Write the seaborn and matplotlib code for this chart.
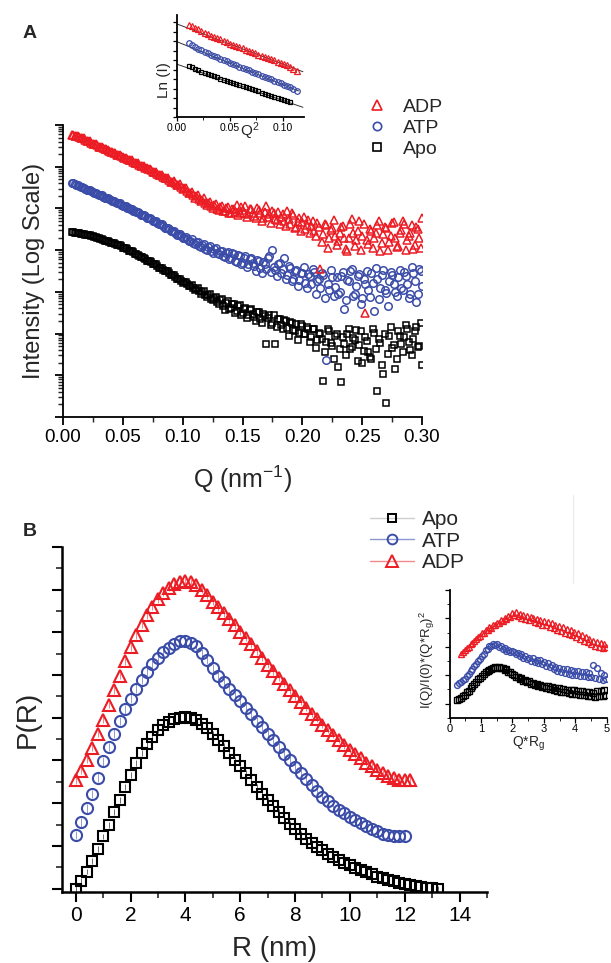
import numpy as np
import pandas as pd
import seaborn as sns
import matplotlib
matplotlib.use("Agg")
import matplotlib.pyplot as plt
from matplotlib.lines import Line2D
from matplotlib.ticker import (MultipleLocator, LogLocator, NullFormatter,
                               FormatStrFormatter)

# ---------------- Panel A: SAXS curves (log10 intensity) ----------------
# main q grid (0.0075 ... 0.300) and the in-between q grid (0.00875 ... 0.29875)
q_start, q_step, n_q = 0.0075, 0.0025, 118
qh_start, n_qh = 0.00875, 117
adp_logI = [6.76, 6.74, 6.74, 6.70, 6.68, 6.62, 6.61, 6.55, 6.54, 6.48,
            6.47, 6.42, 6.41, 6.36, 6.34, 6.29, 6.28, 6.23, 6.22, 6.16,
            6.15, 6.09, 6.09, 6.02, 6.01, 5.96, 5.94, 5.88, 5.87, 5.80,
            5.80, 5.72, 5.73, 5.64, 5.66, 5.55, 5.58, 5.47, 5.49, 5.36,
            5.40, 5.26, 5.33, 5.17, 5.24, 5.08, 5.15, 5.02, 5.10, 4.96,
            5.06, 4.93, 5.04, 4.90, 4.99, 5.08, 4.88, 4.97, 5.05, 4.86,
            4.98, 4.82, 5.02, 4.90, 4.78, 5.05, 4.86, 4.95, 4.74, 4.92,
            4.80, 4.70, 4.95, 4.62, 4.85, 4.55, 4.78, 4.68, 4.50, 4.72,
            4.58, 4.45, 4.66, 3.55, 4.38, 4.60, 4.28, 4.52, 4.35, 4.22,
            4.55, 4.30, 3.98, 4.62, 4.40, 4.25, 4.70, 4.35, 2.50, 4.15,
            4.45, 4.28, 4.60, 3.98, 4.38, 4.52, 4.20, 4.65, 4.30, 4.10,
            4.48, 4.62, 4.25, 4.40, 4.02, 4.55, 4.30, 4.78]
adp_logI_h = [6.75, 6.74, 6.72, 6.69, 6.65, 6.62, 6.58, 6.55, 6.51, 6.47,
              6.44, 6.42, 6.38, 6.35, 6.32, 6.28, 6.25, 6.22, 6.19, 6.15,
              6.12, 6.08, 6.05, 6.02, 5.98, 5.95, 5.91, 5.87, 5.83, 5.80,
              5.76, 5.72, 5.68, 5.64, 5.60, 5.56, 5.52, 5.48, 5.42, 5.38,
              5.32, 5.30, 5.22, 5.21, 5.12, 5.13, 5.06, 5.08, 4.98, 5.03,
              4.95, 5.02, 4.88, 4.98, 4.92, 4.85, 5.03, 4.90, 4.80, 4.99,
              4.88, 4.76, 4.96, 4.70, 4.92, 4.80, 4.66, 4.90, 4.72, 4.62,
              4.86, 4.58, 4.75, 4.88, 4.52, 4.68, 4.45, 4.80, 4.60, 4.40,
              4.70, 4.35, 4.55, 4.20, 4.62, 4.05, 4.48, 4.72, 4.12, 4.40,
              4.58, 4.02, 4.30, 4.75, 4.10, 4.45, 4.00, 4.62, 4.25, 4.50,
              4.05, 4.40, 4.70, 4.18, 4.55, 4.00, 4.35, 4.68, 4.08, 4.42,
              4.70, 4.00, 4.35, 4.60, 4.12, 4.50, 4.05]
atp_logI = [5.61, 5.58, 5.57, 5.52, 5.50, 5.45, 5.44, 5.39, 5.38, 5.33,
            5.31, 5.26, 5.25, 5.20, 5.18, 5.13, 5.12, 5.07, 5.05, 5.00,
            4.98, 4.93, 4.91, 4.85, 4.84, 4.78, 4.77, 4.71, 4.70, 4.62,
            4.62, 4.54, 4.54, 4.45, 4.47, 4.37, 4.39, 4.30, 4.31, 4.22,
            4.27, 4.14, 4.20, 4.08, 4.15, 4.00, 4.09, 3.94, 4.05, 3.90,
            3.99, 3.84, 3.95, 3.80, 3.90, 3.72, 3.86, 3.70, 3.85, 3.66,
            3.80, 3.62, 3.76, 3.58, 3.72, 3.55, 3.85, 4.00, 3.52, 3.66,
            3.45, 3.81, 3.40, 3.58, 3.32, 3.52, 3.28, 3.46, 3.22, 3.42,
            3.18, 3.48, 3.25, 3.10, 3.40, 1.37, 3.05, 3.35, 3.12, 2.95,
            3.38, 2.60, 3.28, 3.50, 2.90, 3.15, 3.42, 2.85, 3.20, 3.05,
            3.45, 2.55, 3.30, 3.10, 3.52, 2.98, 3.25, 3.40, 3.00, 3.35,
            3.10, 3.48, 3.20, 2.95, 3.45, 2.75, 3.55, 3.15]
atp_logI_h = [5.60, 5.57, 5.54, 5.51, 5.47, 5.44, 5.41, 5.38, 5.35, 5.32,
              5.28, 5.25, 5.22, 5.19, 5.15, 5.12, 5.09, 5.06, 5.02, 4.99,
              4.95, 4.92, 4.88, 4.85, 4.81, 4.77, 4.74, 4.70, 4.66, 4.62,
              4.58, 4.54, 4.50, 4.46, 4.42, 4.38, 4.34, 4.30, 4.26, 4.22,
              4.18, 4.19, 4.10, 4.13, 4.03, 4.08, 3.97, 4.02, 3.92, 3.97,
              3.86, 3.94, 3.78, 3.92, 3.74, 3.88, 3.66, 3.82, 3.60, 3.78,
              3.68, 3.50, 3.74, 3.45, 3.66, 3.82, 3.48, 3.60, 3.38, 3.70,
              3.55, 3.30, 3.62, 3.25, 3.50, 3.15, 3.45, 3.60, 3.10, 3.38,
              3.55, 2.95, 3.30, 3.45, 2.85, 3.20, 3.52, 2.90, 3.35, 3.00,
              3.48, 2.80, 3.25, 3.55, 2.95, 3.38, 2.70, 3.30, 3.50, 2.88,
              3.22, 3.58, 2.82, 3.40, 3.05, 2.65, 3.48, 3.18, 2.90, 3.52,
              3.05, 3.38, 2.85, 3.60, 3.25, 2.95, 3.50]
apo_logI = [4.44, 4.42, 4.42, 4.39, 4.39, 4.36, 4.36, 4.33, 4.32, 4.28,
            4.27, 4.23, 4.22, 4.17, 4.17, 4.12, 4.12, 4.06, 4.05, 3.99,
            3.97, 3.91, 3.89, 3.83, 3.81, 3.74, 3.75, 3.67, 3.66, 3.58,
            3.58, 3.49, 3.49, 3.40, 3.41, 3.31, 3.32, 3.22, 3.24, 3.13,
            3.17, 3.05, 3.09, 2.96, 3.02, 2.88, 2.94, 2.80, 2.88, 2.72,
            2.84, 2.57, 2.77, 2.62, 2.72, 2.55, 2.68, 2.50, 2.62, 2.45,
            2.58, 2.40, 2.52, 2.35, 2.48, 1.75, 2.44, 2.26, 1.75, 2.36,
            2.20, 2.32, 2.14, 2.28, 2.08, 2.22, 2.02, 2.18, 1.98, 2.12,
            1.92, 2.10, 1.85, 1.98, 0.87, 1.80, 2.05, 1.70, 1.95, 1.20,
            0.85, 1.75, 2.00, 1.62, 1.90, 2.08, 1.72, 1.30, 1.92, 1.55,
            1.40, 2.02, 0.63, 1.78, 1.03, 0.34, 1.95, 1.65, 1.15, 2.05,
            1.75, 1.92, 2.10, 1.60, 1.88, 2.15, 1.70, 1.25]
apo_logI_h = [4.43, 4.42, 4.40, 4.39, 4.37, 4.36, 4.34, 4.32, 4.30, 4.27,
              4.25, 4.22, 4.20, 4.17, 4.14, 4.12, 4.09, 4.06, 4.02, 3.99,
              3.95, 3.91, 3.87, 3.83, 3.78, 3.75, 3.71, 3.67, 3.62, 3.58,
              3.53, 3.49, 3.45, 3.40, 3.36, 3.31, 3.27, 3.23, 3.18, 3.14,
              3.10, 3.08, 3.01, 3.00, 2.93, 2.92, 2.84, 2.85, 2.76, 2.80,
              2.66, 2.74, 2.58, 2.70, 2.50, 2.66, 2.44, 2.60, 2.38, 2.56,
              2.46, 2.30, 2.52, 2.25, 2.42, 2.38, 2.20, 2.45, 2.15, 2.35,
              2.10, 2.30, 1.95, 2.25, 2.05, 1.85, 2.22, 1.98, 2.15, 1.80,
              2.12, 1.65, 2.02, 1.88, 1.55, 2.10, 1.78, 1.40, 2.00, 1.62,
              1.92, 1.48, 2.12, 1.68, 1.85, 1.35, 2.05, 1.58, 1.82, 1.45,
              2.10, 1.62, 1.88, 1.25, 1.98, 1.50, 2.15, 1.72, 1.38, 1.95,
              1.55, 2.20, 1.80, 1.48, 2.05, 1.68, 2.25]

# ---------------- Panel A inset: Guinier plot ----------------
q2_start, q2_step = 0.011, 0.003
guin_adp = [9.00, 8.95, 8.70, 8.62, 8.40, 8.28, 8.10, 7.98, 7.85, 7.70,
            7.60, 7.45, 7.35, 7.20, 7.10, 6.95, 6.85, 6.72, 6.60, 6.48,
            6.38, 6.25, 6.12, 6.02, 5.88, 5.78, 5.65, 5.55, 5.40, 5.30,
            5.15, 5.05, 4.90, 4.75, 4.50]
guin_atp = [7.25, 7.05, 6.85, 6.68, 6.52, 6.38, 6.24, 6.10, 5.97, 5.84,
            5.70, 5.58, 5.45, 5.33, 5.20, 5.07, 4.95, 4.82, 4.69, 4.57,
            4.44, 4.31, 4.19, 4.06, 3.94, 3.80, 3.68, 3.55, 3.42, 3.30,
            3.18, 3.04, 2.92, 2.78, 2.55]
guin_apo = [5.00, 4.88, 4.70, 4.56, 4.44, 4.32, 4.21, 4.10, 3.99, 3.88,
            3.77, 3.66, 3.56, 3.45, 3.34, 3.24, 3.13, 3.02, 2.92, 2.81,
            2.71, 2.60, 2.50, 2.39, 2.29, 2.18, 2.08, 1.98, 1.88, 1.78,
            1.68, 1.58, 1.50]
fit_q2_adp, fit_adp = [0.0, 0.119], [9.12, 4.44]
fit_q2_atp, fit_atp = [0.0, 0.115], [7.38, 2.55]
fit_q2_apo, fit_apo = [0.0, 0.119], [5.17, 0.95]

# ---------------- Panel B: pair distance distributions ----------------
r_step = 0.2
apo_pr = [0.00, 0.18, 0.40, 0.64, 0.93, 1.22, 1.50, 1.79, 2.08, 2.38,
          2.66, 2.93, 3.17, 3.38, 3.56, 3.71, 3.83, 3.91, 3.97, 4.00,
          4.01, 3.99, 3.94, 3.86, 3.76, 3.63, 3.49, 3.34, 3.18, 3.02,
          2.86, 2.70, 2.54, 2.38, 2.22, 2.07, 1.93, 1.79, 1.65, 1.52,
          1.39, 1.28, 1.17, 1.07, 0.98, 0.90, 0.82, 0.75, 0.68, 0.61,
          0.55, 0.49, 0.43, 0.38, 0.33, 0.28, 0.24, 0.20, 0.17, 0.14,
          0.11, 0.08, 0.06, 0.04, 0.02, 0.01, 0.00]
atp_pr = [1.25, 1.55, 1.88, 2.22, 2.60, 2.98, 3.32, 3.63, 3.92, 4.20,
          4.45, 4.68, 4.89, 5.08, 5.25, 5.40, 5.53, 5.64, 5.73, 5.79,
          5.80, 5.76, 5.68, 5.52, 5.35, 5.16, 4.99, 4.83, 4.68, 4.54,
          4.40, 4.24, 4.08, 3.93, 3.78, 3.63, 3.47, 3.31, 3.15, 3.00,
          2.85, 2.70, 2.56, 2.42, 2.28, 2.15, 2.04, 1.94, 1.84, 1.76,
          1.68, 1.60, 1.53, 1.46, 1.40, 1.34, 1.29, 1.25, 1.22, 1.22,
          1.24]
adp_pr = [2.54, 2.76, 3.02, 3.30, 3.62, 3.96, 4.30, 4.64, 4.98, 5.32,
          5.65, 5.93, 6.18, 6.40, 6.60, 6.78, 6.93, 7.05, 7.14, 7.19,
          7.20, 7.17, 7.10, 7.00, 6.87, 6.72, 6.59, 6.45, 6.31, 6.17,
          6.02, 5.87, 5.72, 5.56, 5.40, 5.24, 5.09, 4.94, 4.79, 4.64,
          4.50, 4.37, 4.23, 4.10, 3.97, 3.84, 3.72, 3.60, 3.48, 3.36,
          3.25, 3.15, 3.05, 2.95, 2.86, 2.78, 2.70, 2.63, 2.58, 2.55,
          2.54, 2.55]
apo_err, atp_err, adp_err = 0.07, 0.10, 0.08

# ---------------- Panel B inset: dimensionless Kratky ----------------
k_start, k_step = 0.25, 0.06
krat_apo = [0.62, 0.67, 0.70, 0.77, 0.81, 0.89, 0.95, 1.05, 1.10, 1.20,
            1.26, 1.35, 1.39, 1.48, 1.53, 1.61, 1.63, 1.69, 1.70, 1.75,
            1.77, 1.76, 1.79, 1.74, 1.76, 1.69, 1.70, 1.62, 1.61, 1.53,
            1.52, 1.45, 1.45, 1.38, 1.40, 1.31, 1.34, 1.26, 1.29, 1.20,
            1.24, 1.16, 1.20, 1.12, 1.16, 1.08, 1.13, 1.04, 1.10, 1.01,
            1.08, 0.97, 1.05, 0.94, 1.04, 0.91, 1.02, 0.90, 0.99, 0.88,
            0.98, 0.85, 0.96, 0.84, 0.94, 0.80, 0.93, 0.79, 0.92, 0.78,
            0.90, 0.75, 0.88, 0.74, 0.93, 0.76, 0.95, 0.78, 0.96, 0.80]
krat_atp = [1.15, 1.22, 1.26, 1.34, 1.38, 1.47, 1.54, 1.65, 1.72, 1.83,
            1.90, 2.01, 2.08, 2.19, 2.26, 2.37, 2.42, 2.52, 2.54, 2.60,
            2.56, 2.58, 2.48, 2.52, 2.42, 2.45, 2.35, 2.40, 2.30, 2.34,
            2.32, 2.24, 2.28, 2.19, 2.23, 2.12, 2.17, 2.06, 2.12, 2.01,
            2.09, 1.97, 2.05, 1.92, 2.02, 1.88, 1.98, 1.83, 1.92, 1.77,
            1.86, 1.71, 1.80, 1.64, 1.75, 1.60, 1.72, 1.56, 1.70, 1.54,
            1.68, 1.52, 1.65, 1.50, 1.63, 1.47, 1.62, 1.46, 1.60, 1.44,
            1.58, 1.42, 1.85, 1.40, 1.74, 1.38, 1.56, 1.33, 1.52, 1.36]
krat_adp = [2.25, 2.33, 2.38, 2.46, 2.50, 2.59, 2.63, 2.71,
            2.76, 2.85, 2.88, 2.98, 3.00, 3.10, 3.09, 3.18, 3.16, 3.26,
            3.25, 3.35, 3.33, 3.44, 3.40, 3.52, 3.48, 3.60, 3.55, 3.70,
            3.62, 3.72, 3.58, 3.66, 3.52, 3.63, 3.49, 3.60, 3.45, 3.56,
            3.52, 3.38, 3.48, 3.34, 3.45, 3.28, 3.42, 3.25, 3.38, 3.20,
            3.32, 3.15, 3.27, 3.10, 3.24, 3.05, 3.18, 3.00, 3.12, 2.95,
            3.08, 2.90, 3.02, 2.85, 2.98, 2.78, 2.90, 2.70, 2.84, 2.65,
            2.78, 2.60, 2.72, 2.54, 2.66, 2.50, 2.62, 2.45, 2.58, 2.48]

# ---------------- build tables ----------------
q_main = np.round(q_start + q_step * np.arange(n_q), 5)
q_half = np.round(qh_start + q_step * np.arange(n_qh), 5)
dfA = pd.DataFrame({
    "q": np.concatenate([q_main, q_half]),
    "ADP": 10.0 ** np.array(adp_logI + adp_logI_h),
    "ATP": 10.0 ** np.array(atp_logI + atp_logI_h),
    "Apo": 10.0 ** np.array(apo_logI + apo_logI_h),
})
q2 = np.round(q2_start + q2_step * np.arange(len(guin_adp)), 4)
r_apo = np.round(r_step * np.arange(len(apo_pr)), 2)
r_atp = np.round(r_step * np.arange(len(atp_pr)), 2)
r_adp = np.round(r_step * np.arange(len(adp_pr)), 2)
kx = np.round(k_start + k_step * np.arange(len(krat_apo)), 3)
kx_adp = kx[len(krat_apo) - len(krat_adp):]

RED, BLUE, BLACK = "#ec1c24", "#3a4ca8", "#000000"

sns.set_theme(style="ticks")
plt.rcParams["font.family"] = ["Liberation Sans", "DejaVu Sans"]
plt.rcParams["mathtext.fontset"] = "custom"
plt.rcParams["mathtext.rm"] = "Liberation Sans"
plt.rcParams["mathtext.it"] = "Liberation Sans:italic"
plt.rcParams["mathtext.default"] = "regular"
plt.rcParams["axes.linewidth"] = 1.3

W, H = 611, 963
fig = plt.figure(figsize=(W / 100, H / 100), dpi=100)


def rect(l, t, r, b):
    return [l / W, 1 - b / H, (r - l) / W, (b - t) / H]


def pts(ax, x, y, color, marker, ms, mew):
    sns.lineplot(x=x, y=y, ax=ax, color=color, linestyle="none", marker=marker,
                 markersize=ms, markerfacecolor="none", markeredgecolor=color,
                 markeredgewidth=mew, estimator=None, sort=False, legend=False)


def style_ticks(ax, size, maj=6, mnr=3.5, w=1.3):
    ax.tick_params(which="major", direction="out", length=maj, width=w,
                   labelsize=size, colors="black", pad=3)
    ax.tick_params(which="minor", direction="out", length=mnr, width=w * 0.8)
    sns.despine(ax=ax)
    for s in ("left", "bottom"):
        ax.spines[s].set_color("black")


# ---------------- Panel A main ----------------
axA = fig.add_axes(rect(63, 125, 422, 417))
axA.set_yscale("log")
pts(axA, dfA["q"], dfA["Apo"], BLACK, "s", 4.8, 1.1)
pts(axA, dfA["q"], dfA["ATP"], BLUE, "o", 5.4, 1.1)
pts(axA, dfA["q"], dfA["ADP"], RED, "^", 6.2, 1.1)
axA.set_xlim(0, 0.30)
axA.set_ylim(1, 1e7)
axA.xaxis.set_major_locator(MultipleLocator(0.05))
axA.xaxis.set_minor_locator(MultipleLocator(0.025))
axA.xaxis.set_major_formatter(FormatStrFormatter("%.2f"))
axA.yaxis.set_major_locator(LogLocator(base=10, numticks=20))
axA.yaxis.set_minor_locator(LogLocator(base=10, subs=np.arange(2, 10), numticks=20))
axA.yaxis.set_major_formatter(NullFormatter())
axA.yaxis.set_minor_formatter(NullFormatter())
style_ticks(axA, 13.5)
axA.set_xlabel("Q (nm$^{-1}$)", fontsize=18, labelpad=12)
axA.set_ylabel("Intensity (Log Scale)", fontsize=17, labelpad=4)

legA = [Line2D([], [], linestyle="none", marker=m, ms=s, mfc="none", mec=c, mew=1.2)
        for m, s, c in (("^", 7, RED), ("o", 6, BLUE), ("s", 5.5, BLACK))]
fig.legend(legA, ["ADP", "ATP", "Apo"], loc="center left",
           bbox_to_anchor=(367 / W, 1 - 128 / H), frameon=False, fontsize=14,
           handlelength=1.0, handletextpad=0.85, labelspacing=0.18,
           borderpad=0, borderaxespad=0)

# ---------------- Panel A inset ----------------
axAi = fig.add_axes(rect(177, 15, 304, 117))
for fx, fy in ((fit_q2_adp, fit_adp), (fit_q2_atp, fit_atp), (fit_q2_apo, fit_apo)):
    sns.lineplot(x=fx, y=fy, ax=axAi, color="#333333", lw=0.7, legend=False)
pts(axAi, q2, guin_adp, RED, "^", 4.4, 0.9)
pts(axAi, q2, guin_atp, BLUE, "o", 4.0, 0.9)
pts(axAi, q2[:len(guin_apo)], guin_apo, BLACK, "s", 3.4, 0.9)
axAi.set_xlim(0, 0.12)
axAi.set_ylim(0, 10)
axAi.xaxis.set_major_locator(MultipleLocator(0.05))
axAi.xaxis.set_minor_locator(MultipleLocator(0.025))
axAi.xaxis.set_major_formatter(FormatStrFormatter("%.2f"))
axAi.yaxis.set_major_locator(MultipleLocator(0.93))
axAi.yaxis.set_major_formatter(NullFormatter())
style_ticks(axAi, 7.5, maj=3, mnr=2.5, w=0.9)
axAi.tick_params(which="major", pad=1.5)
axAi.set_xlabel("Q$^2$", fontsize=11)
axAi.xaxis.set_label_coords(0.575, -0.03)
axAi.set_ylabel("Ln (I)", fontsize=11)
axAi.yaxis.set_label_coords(-0.05, 0.36)

# ---------------- Panel B main ----------------
axB = fig.add_axes(rect(62, 547, 487, 892))
axB.errorbar(r_apo, apo_pr, yerr=apo_err, fmt="none", ecolor="#555555", elinewidth=0.6)
axB.errorbar(r_atp, atp_pr, yerr=atp_err, fmt="none", ecolor="#7f8ac8", elinewidth=0.6)
axB.errorbar(r_adp, adp_pr, yerr=adp_err, fmt="none", ecolor="#f07070", elinewidth=0.6)
pts(axB, r_apo, apo_pr, BLACK, "s", 7.0, 1.5)
pts(axB, r_atp, atp_pr, BLUE, "o", 8.0, 1.5)
pts(axB, r_adp, adp_pr, RED, "^", 9.0, 1.5)
axB.set_xlim(-0.5, 15)
axB.set_ylim(-0.08, 8.0)
axB.xaxis.set_major_locator(MultipleLocator(2))
axB.xaxis.set_minor_locator(MultipleLocator(1))
axB.yaxis.set_major_locator(MultipleLocator(1))
axB.yaxis.set_minor_locator(MultipleLocator(0.5))
axB.yaxis.set_major_formatter(NullFormatter())
style_ticks(axB, 15, maj=7, mnr=4, w=1.5)
for s in ("left", "bottom"):
    axB.spines[s].set_linewidth(1.8)
axB.set_xlabel("R (nm)", fontsize=20, labelpad=8)
axB.set_ylabel("P(R)", fontsize=20, labelpad=5)

legB = [Line2D([], [], color=lc, lw=1.0, marker=m, ms=s, mfc="none", mec=c, mew=1.4)
        for lc, m, s, c in (("#cfcfcf", "s", 6, BLACK), ("#8e98d0", "o", 7, BLUE),
                            ("#f28a8a", "^", 8, RED))]
fig.legend(legB, ["Apo", "ATP", "ADP"], loc="center left",
           bbox_to_anchor=(370 / W, 1 - 541 / H), frameon=False, fontsize=15,
           handlelength=2.1, handletextpad=0.4, labelspacing=0.12,
           borderpad=0, borderaxespad=0, numpoints=1)

# ---------------- Panel B inset ----------------
axBi = fig.add_axes(rect(449.5, 590, 606.7, 717.7))
pts(axBi, kx, krat_apo, BLACK, "s", 3.8, 1.0)
pts(axBi, kx, krat_atp, BLUE, "o", 4.2, 1.0)
pts(axBi, kx_adp, krat_adp, RED, "^", 4.6, 1.0)
axBi.set_xlim(0, 5)
axBi.set_ylim(0, 4.5)
axBi.xaxis.set_major_locator(MultipleLocator(1))
axBi.xaxis.set_minor_locator(MultipleLocator(0.5))
axBi.yaxis.set_major_locator(MultipleLocator(1, offset=0.5))
axBi.yaxis.set_minor_locator(MultipleLocator(1))
axBi.yaxis.set_major_formatter(NullFormatter())
style_ticks(axBi, 8, maj=3.5, mnr=2, w=0.9)
axBi.tick_params(which="major", pad=1.2)
axBi.set_xlabel("Q*R$_g$", fontsize=10)
axBi.xaxis.set_label_coords(0.5, -0.13)
axBi.set_ylabel("I(Q)/I(0)*(Q*R$_g$)$^2$", fontsize=9.5)
axBi.yaxis.set_label_coords(-0.08, 0.45)

# ---------------- panel letters & decoration ----------------
fig.text(30 / W, 1 - 34 / H, "A", fontsize=14, fontweight="bold", ha="center", va="center")
fig.text(30 / W, 1 - 531 / H, "B", fontsize=14, fontweight="bold", ha="center", va="center")
fig.add_artist(Line2D([573 / W, 573 / W], [1 - 495 / H, 1 - 583 / H],
                      color="#ebebeb", lw=0.8))

fig.savefig("out.png", dpi=100)
